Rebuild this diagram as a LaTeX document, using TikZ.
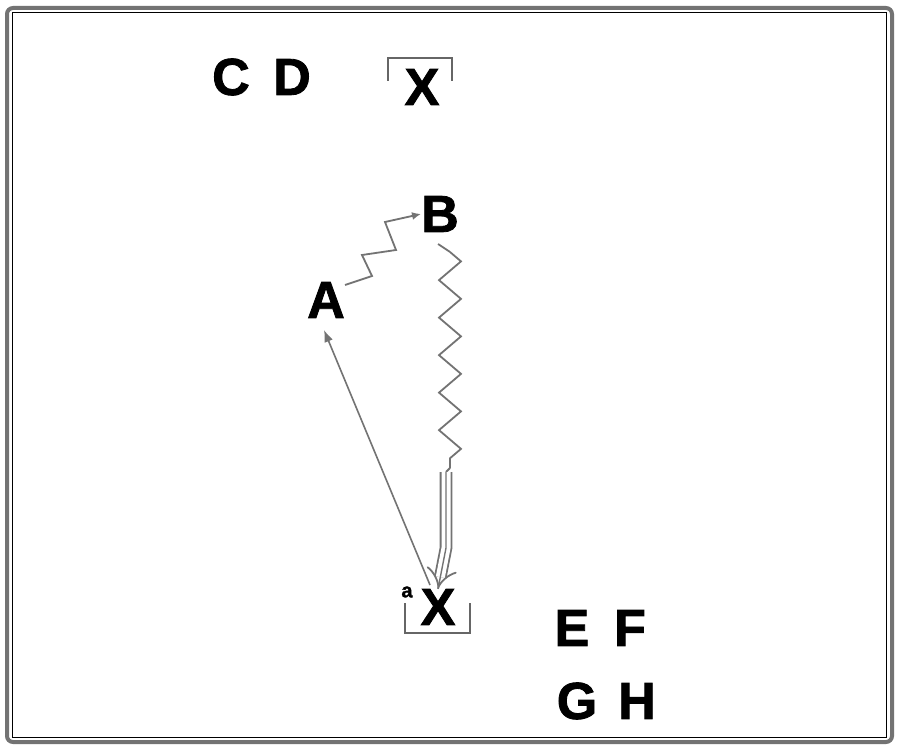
\documentclass[tikz,border=0pt]{standalone}
\usepackage{fontspec}
\setmainfont{Liberation Sans}
\newfontfamily\heavy[FakeBold=1.6]{Liberation Sans Bold}
\usetikzlibrary{arrows.meta,decorations.pathmorphing,calc}
\begin{document}
\begin{tikzpicture}[x=1pt,y=-1pt,
  lbl/.style={font=\heavy\fontsize{52}{52}\selectfont, inner sep=0pt, anchor=center},
  conn/.style={draw=black!55, line width=1.8pt},
  brk/.style={draw=black!60, line width=2.6pt}]
\useasboundingbox (0,0) rectangle (900,749);
\fill[white] (0,0) rectangle (900,749);
% frame
\draw[black!55, line width=4pt, rounded corners=6pt] (7,8) rectangle (892,742);
\draw[black, line width=1pt] (12,13) rectangle (886,737);
% nodes
\node[lbl] (C) at (231,77) {C};
\node[lbl] (D) at (292,77) {D};
\node[lbl] (Xt) at (422,87) {X};
\node[lbl] (B) at (440,214) {B};
\node[lbl] (A) at (326,300) {A};
\node[lbl] (Xb) at (438,607) {X};
\node[font=\heavy\fontsize{20}{20}\selectfont, inner sep=0pt] (a) at (407,592) {a};
\node[lbl] (E) at (572,628) {E};
\node[lbl] (F) at (630,628) {F};
\node[lbl] (G) at (577,701) {G};
\node[lbl] (H) at (637,701) {H};
% brackets
\draw[brk] ($(Xt)+(-34,-6)$) |- ($(Xt)+(30,-29)$) -- ($(Xt)+(30,-6)$);
\draw[brk] ($(Xb)+(-33,-4)$) |- ($(Xb)+(32,26)$) -- ($(Xb)+(32,-4)$);
% A -> B staircase squiggle
\draw[conn, -{Latex[length=9pt,width=8pt]}] (A) ++(19,-15) -- ++(27,-9) -- ++(-10,-21) -- ++(34,-5) -- ++(-11,-28) -- (B.west);
% B -> X wavy then triple
\coordinate (w0) at (438,244);
\coordinate (w1) at (450,252);
\coordinate (w2) at (450,468);
\coordinate (w3) at (446,472);
\coordinate (w4) at (446,548);
\draw[conn] (w0) -- (w1);
\draw[conn, decorate, decoration={zigzag, segment length=37.5pt, amplitude=11pt}] (w1) -- (w2);
\draw[conn] (w2) -- (w3);
\draw[conn, line width=1.8pt, double=white, double distance=9pt, -{Implies}] (w3) -- (w4) -- (Xb.north);
\draw[conn, line width=1.4pt] (w3) -- (w4) -- (Xb.north);
% X -> A
\draw[conn, line width=1.6pt, -{Latex[length=12pt,width=9pt]}] ($(Xb)+(-8,-22)$) -- ($(A)+(-2,30)$);
\end{tikzpicture}
\end{document}
